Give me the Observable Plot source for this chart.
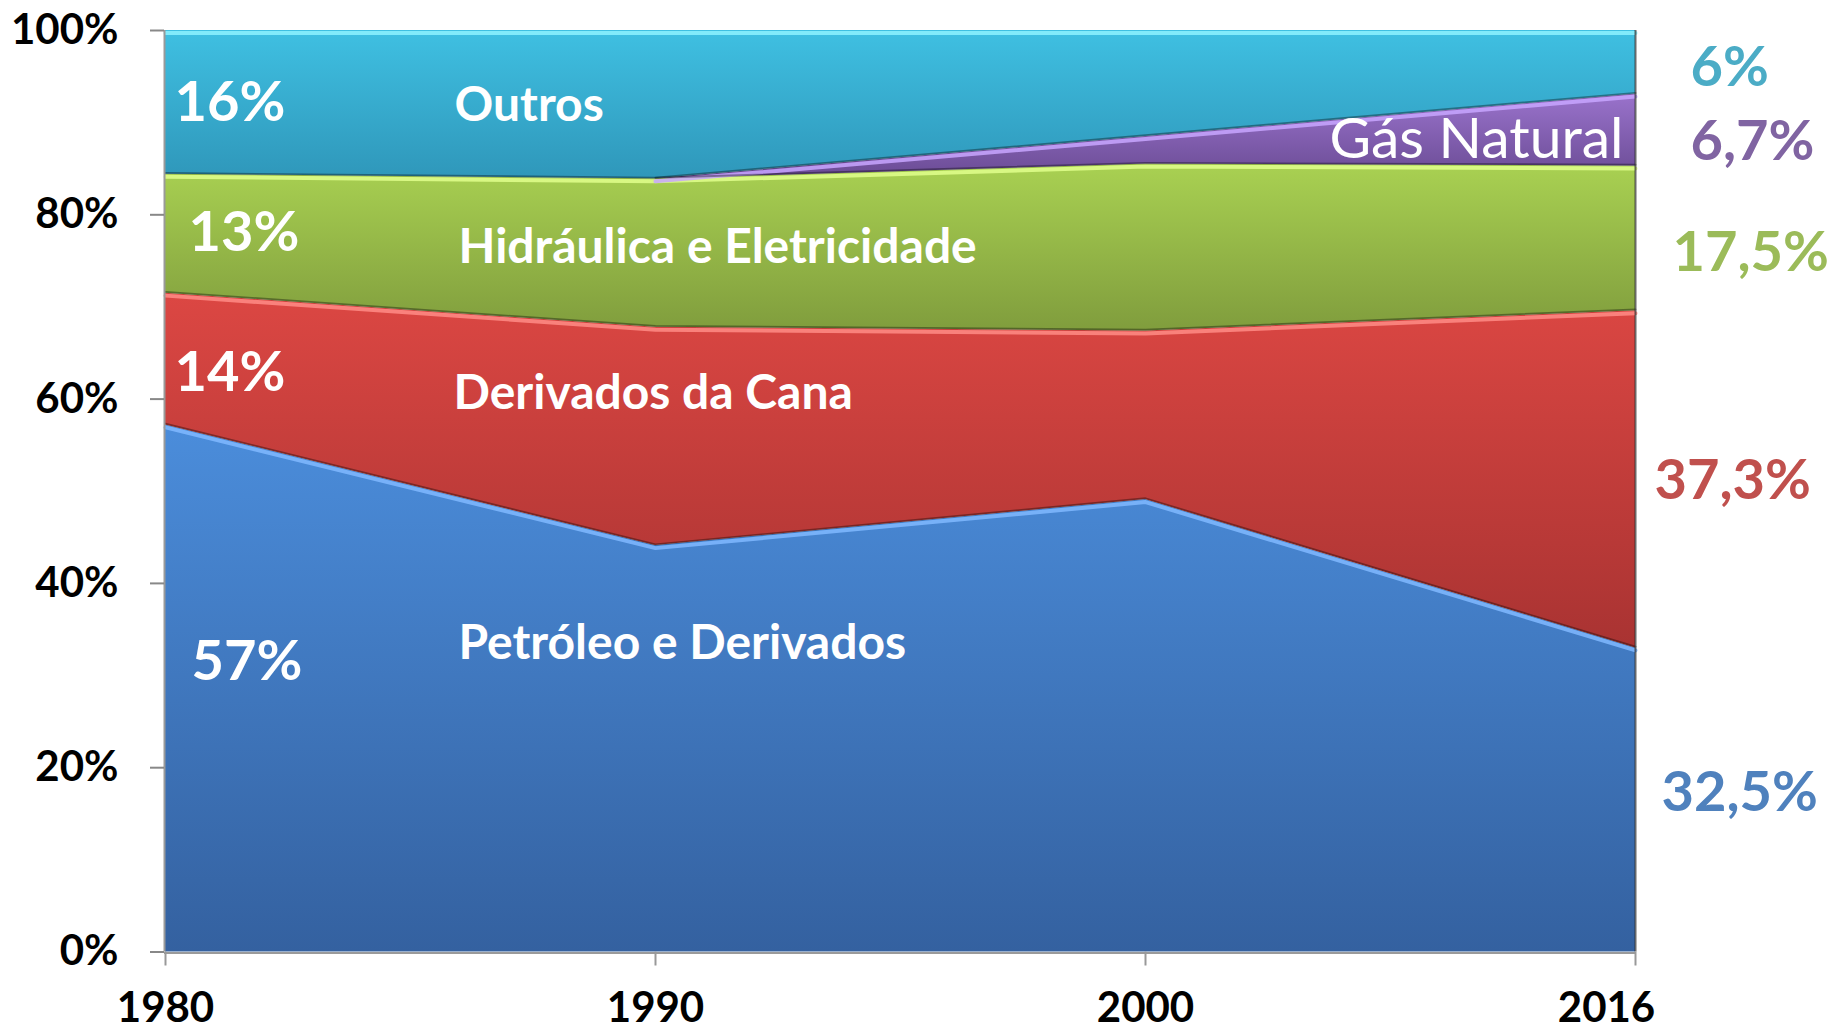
<!DOCTYPE html>
<html><head><meta charset="utf-8">
<script src="https://cdn.jsdelivr.net/npm/d3@7"></script>
<script src="https://cdn.jsdelivr.net/npm/@observablehq/plot@0.6"></script>
<style>html,body{margin:0;padding:0;background:#fff;overflow:hidden}</style>
</head><body><div id="chart"></div>
<script>
// ---- data ----
const years = ["1980", "1990", "2000", "2016"];
const seriesNames = ["Petróleo e Derivados", "Derivados da Cana", "Hidráulica e Eletricidade", "Gás Natural", "Outros"];
const petroleo   = [57.2, 44.1, 49.1, 33.0];
const cana       = [14.3, 23.7, 18.3, 36.6];
const hidraulica = [12.9, 16.1, 18.1, 15.7];
const gas        = [0.0, 0.0, 3.0, 7.8];
const outros     = [15.6, 16.1, 11.5, 6.9];
const labels1980 = ["57%", "14%", "13%", "", "16%"];
const labels2016 = ["32,5%", "37,3%", "17,5%", "6,7%", "6%"];
const yTicks = [0, 20, 40, 60, 80, 100];

// ---- styles ----
const gradTop    = ["#4b8ddb", "#dc4743", "#a9d152", "#9a73cc", "#3fc0e2"];
const gradBottom = ["#3461a0", "#a93332", "#809d3d", "#6a4b94", "#2f97ba"];
const highlight  = ["#80b9ff", "#ff8c86", "#e0ff8c", "#c8a6ff", "#8ef2ff"];
const textColor  = ["#4f81bd", "#c0504d", "#9bbb59", "#8064a2", "#4bacc6"];
const FONT = "Lato, 'Open Sans', sans-serif";

const valuesBySeries = [petroleo, cana, hidraulica, gas, outros];
const data = seriesNames.flatMap((s, i) => years.map((y, j) => ({series: s, idx: i, year: y, value: valuesBySeries[i][j]})));
const cum = years.flatMap((y, j) => {
  let acc = 0;
  return seriesNames.map((s, i) => {
    const base = acc; acc += valuesBySeries[i][j];
    return {series: s, idx: i, year: y, base, top: acc, mid: (base + acc) / 2};
  });
});
const edgeRows = cum.filter(d => !(d.idx === 3 && d.year === "1980"));

// label layouts (pixel offsets)
const innerPctLayout = [{dx: 26, dy: -26}, {dx: 9, dy: 14}, {dx: 23, dy: -1}, null, {dx: 9, dy: 1}];
const catLayout = [{dx: 293, dy: -45}, {dx: 288, dy: 35}, {dx: 293, dy: 14}, null, {dx: 289, dy: 3}];
const rightLayout = [{dx: 26, dy: -7}, {dx: 19, dy: 2}, {dx: 37, dy: 15}, {dx: 55, dy: 12}, {dx: 55, dy: 6}];

const labelMarks = [];
seriesNames.forEach((s, i) => {
  const at1980 = cum.filter(d => d.year === "1980" && d.idx === i);
  const at2016 = cum.filter(d => d.year === "2016" && d.idx === i);
  if (innerPctLayout[i] && labels1980[i]) {
    labelMarks.push(Plot.text(at1980, {x: "year", y: "mid", text: () => labels1980[i], textAnchor: "start",
      dx: innerPctLayout[i].dx, dy: innerPctLayout[i].dy, fill: "white", fontSize: 56, fontWeight: "bold", fontFamily: FONT}));
  }
  if (catLayout[i]) {
    labelMarks.push(Plot.text(at1980, {x: "year", y: "mid", text: () => s, textAnchor: "start",
      dx: catLayout[i].dx, dy: catLayout[i].dy, fill: "white", fontSize: 48, fontWeight: "bold", fontFamily: FONT}));
  }
  labelMarks.push(Plot.text(at2016, {x: "year", y: "mid", text: () => labels2016[i], textAnchor: "start",
    dx: rightLayout[i].dx, dy: rightLayout[i].dy, fill: textColor[i], fontSize: 56, fontWeight: "bold", fontFamily: FONT}));
  if (i === 3) {
    labelMarks.push(Plot.text(at2016, {x: "year", y: "mid", text: () => s, textAnchor: "end",
      dx: -12, dy: 10, fill: "white", fontSize: 57, fontWeight: "normal", fontFamily: FONT}));
  }
});

const axisTextStyle = {fontSize: 42, fontWeight: "bold", fill: "black", label: null, fontFamily: FONT};

const svg = Plot.plot({
  width: 1837,
  height: 1031,
  marginLeft: 164,
  marginRight: 202,
  marginTop: 30,
  marginBottom: 79.5,
  style: {background: "white", fontFamily: FONT, overflow: "visible"},
  x: {type: "point", domain: years, padding: 0},
  y: {domain: [0, 100]},
  color: {type: "identity"},
  marks: [
    Plot.areaY(data, Plot.stackY({x: "year", y: "value", z: "series", order: seriesNames,
      fill: d => `url(#grad-${d.idx})`})),
    Plot.lineY(edgeRows, {x: "year", y: "top", z: "series", stroke: d => highlight[d.idx], strokeWidth: 4, dy: 2.5, strokeOpacity: 0.85}),
    Plot.lineY(edgeRows.filter(d => d.idx !== 4), {x: "year", y: "top", z: "series", stroke: "rgba(0,0,0,0.35)", strokeWidth: 2, dy: -1.2}),
    Plot.ruleX(["2016"], {stroke: "#2a2a2a", strokeWidth: 2, strokeOpacity: 0.7}),
    Plot.ruleX(["1980"], {stroke: "#9a9a9a", strokeWidth: 2, dx: -1}),
    Plot.ruleY([0], {stroke: "#9a9a9a", strokeWidth: 2, dy: 1}),
    Plot.axisY({ticks: yTicks, tickFormat: d => d + "%", tickSize: 14, tickPadding: 32,
      stroke: "#888", strokeWidth: 2, ...axisTextStyle}),
    // tick marks + labels for the first three years
    Plot.axisX({ticks: years.slice(0, 3), tickSize: 14, tickPadding: 26, stroke: "#999", strokeWidth: 2, ...axisTextStyle}),
    // last tick mark (no label)
    Plot.axisX({ticks: years.slice(3), tickSize: 14, tickFormat: () => "", stroke: "#999", strokeWidth: 2, ...axisTextStyle}),
    // last label, kept inside the plot's right edge
    Plot.axisX({ticks: years.slice(3), tickSize: 0, tickPadding: 40, dx: -29, ...axisTextStyle}),
    ...labelMarks
  ]
});

const defs = d3.select(svg).insert("defs", ":first-child");
seriesNames.forEach((s, i) => {
  const g = defs.append("linearGradient").attr("id", `grad-${i}`)
    .attr("x1", 0).attr("y1", 0).attr("x2", 0).attr("y2", 1);
  g.append("stop").attr("offset", "0%").attr("stop-color", gradTop[i]);
  g.append("stop").attr("offset", "100%").attr("stop-color", gradBottom[i]);
});

document.getElementById("chart").appendChild(svg);
</script>
</body></html>
